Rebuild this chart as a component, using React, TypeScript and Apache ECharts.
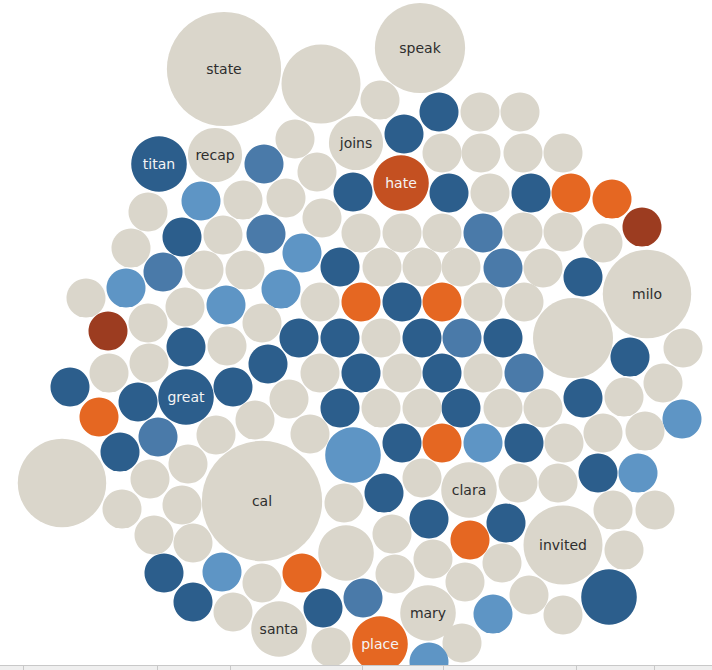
import React, { useEffect, useRef } from 'react';
import * as echarts from 'echarts';

// Packed-bubble layout: word, layout position (x, y), count, sentiment tone
const words = [
  'state', '', 'speak', '', '', '', 'joins', '', '', '', 'hate', '', '', '', '', '', '', '', '', '',
  '', '', '', '', '', '', '', '', '', '', '', '', 'milo', '', '', '', '', '', '', '',
  '', '', '', '', '', '', '', '', '', '', '', '', '', '', '', '', 'clara', '', '', '',
  '', '', 'invited', '', '', '', '', '', '', '', '', '', 'cal', '', '', '', '', '', '', '',
  '', '', '', '', '', '', '', '', '', 'mary', 'santa', '', '', 'place', '', '', '', '', '', '',
  '', '', '', '', '', '', '', 'titan', 'recap', '', '', '', '', '', '', '', '', '', '', '',
  '', '', '', '', '', '', '', '', '', '', '', '', '', '', '', '', '', '', '', '',
  '', '', '', '', '', '', '', '', '', '', '', '', '', '', '', '', '', '', '', '',
  'great', '', '', '', '',
];
const posX = [
  224, 321, 420, 380, 439, 404, 356, 295, 317, 264, 401, 353, 449, 442, 480, 520, 481, 523, 563, 490,
  531, 571, 612, 642, 483, 523, 563, 603, 461, 503, 543, 583, 647, 483, 524, 573, 462, 503, 483, 524,
  630, 683, 461, 503, 543, 583, 624, 663, 682, 483, 524, 564, 603, 645, 598, 638, 469, 518, 558, 506,
  613, 655, 563, 624, 470, 502, 465, 609, 529, 563, 493, 462, 262, 353, 402, 442, 422, 384, 344, 429,
  346, 392, 433, 395, 302, 222, 262, 323, 363, 428, 279, 233, 331, 380, 429, 301, 62, 120, 158, 150,
  188, 122, 182, 154, 193, 164, 193, 159, 215, 201, 148, 243, 182, 223, 286, 266, 322, 361, 402, 442,
  302, 245, 340, 382, 422, 281, 320, 361, 402, 442, 262, 299, 340, 381, 422, 268, 320, 361, 402, 442,
  289, 340, 381, 422, 255, 310, 131, 163, 126, 204, 86, 185, 226, 108, 148, 186, 227, 109, 149, 70,
  186, 138, 233, 99, 216,
];
const posY = [
  69, 84, 48, 100, 112, 134, 143, 139, 172, 164, 183, 192, 193, 153, 112, 112, 153, 153, 153, 193,
  193, 193, 199, 227, 233, 232, 232, 243, 267, 268, 268, 277, 294, 302, 302, 338, 338, 338, 373, 373,
  357, 348, 408, 408, 408, 398, 397, 383, 419, 443, 443, 443, 433, 431, 473, 473, 490, 483, 483, 523,
  510, 510, 545, 550, 540, 563, 582, 597, 595, 615, 614, 643, 501, 455, 443, 443, 478, 493, 503, 519,
  553, 534, 559, 574, 573, 572, 583, 608, 598, 613, 629, 612, 647, 644, 662, 675, 483, 452, 437, 479,
  464, 509, 505, 535, 543, 573, 602, 164, 155, 201, 212, 200, 237, 235, 198, 234, 218, 233, 233, 233,
  253, 270, 267, 267, 267, 289, 302, 302, 302, 302, 323, 338, 338, 338, 338, 364, 373, 373, 373, 373,
  399, 408, 408, 408, 420, 434, 248, 272, 288, 270, 298, 307, 305, 331, 323, 347, 346, 373, 363, 387,
  397, 402, 387, 417, 435,
];
const counts = [
  83, 40, 52, 10, 10, 10, 19, 10, 10, 10, 20, 10, 10, 10, 10, 10, 10, 10, 10, 10,
  10, 10, 10, 10, 10, 10, 10, 10, 10, 10, 10, 10, 50, 10, 10, 41, 10, 10, 10, 10,
  10, 10, 10, 10, 10, 10, 10, 10, 10, 10, 10, 10, 10, 10, 10, 10, 20, 10, 10, 10,
  10, 10, 40, 10, 10, 10, 10, 20, 10, 10, 10, 10, 92, 20, 10, 10, 10, 10, 10, 10,
  20, 10, 10, 10, 10, 10, 10, 10, 10, 20, 20, 10, 10, 20, 10, 10, 50, 10, 10, 10,
  10, 10, 10, 10, 10, 10, 10, 20, 19, 10, 10, 10, 10, 10, 10, 10, 10, 10, 10, 10,
  10, 10, 10, 10, 10, 10, 10, 10, 10, 10, 10, 10, 10, 10, 10, 10, 10, 10, 10, 10,
  10, 10, 10, 10, 10, 10, 10, 10, 10, 10, 10, 10, 10, 10, 10, 10, 10, 10, 10, 10,
  20, 10, 10, 10, 10,
];
// n neutral, d strong positive, m positive, l mild positive, o negative, h strong negative, b very negative
const tones = [
  'n', 'n', 'n', 'n', 'd', 'd', 'n', 'n', 'n', 'm', 'h', 'd', 'd', 'n', 'n', 'n', 'n', 'n', 'n', 'n',
  'd', 'o', 'o', 'b', 'm', 'n', 'n', 'n', 'n', 'm', 'n', 'd', 'n', 'n', 'n', 'n', 'm', 'd', 'n', 'm',
  'd', 'n', 'd', 'n', 'n', 'd', 'n', 'n', 'l', 'l', 'd', 'n', 'n', 'n', 'd', 'l', 'n', 'n', 'n', 'd',
  'n', 'n', 'n', 'n', 'o', 'n', 'n', 'd', 'n', 'n', 'l', 'n', 'n', 'l', 'd', 'o', 'n', 'd', 'n', 'd',
  'n', 'n', 'n', 'n', 'o', 'l', 'n', 'd', 'm', 'n', 'n', 'n', 'n', 'o', 'l', 'd', 'n', 'd', 'm', 'n',
  'n', 'n', 'n', 'n', 'n', 'd', 'd', 'd', 'n', 'l', 'n', 'n', 'd', 'n', 'n', 'm', 'n', 'n', 'n', 'n',
  'l', 'n', 'd', 'n', 'n', 'l', 'n', 'o', 'd', 'o', 'n', 'd', 'd', 'n', 'd', 'd', 'n', 'd', 'n', 'd',
  'n', 'd', 'n', 'n', 'n', 'n', 'n', 'm', 'l', 'n', 'n', 'n', 'l', 'b', 'n', 'd', 'n', 'n', 'n', 'd',
  'd', 'd', 'd', 'o', 'n',
];
const tabEdges = [23, 157, 230, 362, 443, 576, 654];

const toneColor: Record<string, string> = {
  n: '#dad6cb',
  d: '#2c5e8c',
  m: '#4a7aa9',
  l: '#5e95c5',
  o: '#e56722',
  h: '#c45021',
  b: '#9c3c20',
};

export default function App() {
  const ref = useRef<HTMLDivElement>(null);
  useEffect(() => {
    if (!ref.current) return;
    const chart = echarts.init(ref.current, null, { renderer: 'svg' });
    const data = words.map((w, i) => ({
      name: w,
      value: [posX[i], posY[i], counts[i]],
      itemStyle: { color: toneColor[tones[i]], opacity: 1 },
      label: { show: w !== '', color: tones[i] === 'n' ? '#2e2e2e' : '#f4f4f4' },
    }));
    const graphics: any[] = [
      { type: 'rect', z: 100, shape: { x: 0, y: 665, width: 712, height: 6 }, style: { fill: '#efefef' } },
      { type: 'line', z: 101, shape: { x1: 0, y1: 665.5, x2: 712, y2: 665.5 }, style: { stroke: '#c8c8c8', lineWidth: 1 } },
      ...tabEdges.map((x) => ({
        type: 'line', z: 101, shape: { x1: x + 0.5, y1: 665, x2: x + 0.5, y2: 670 }, style: { stroke: '#c8c8c8', lineWidth: 1 },
      })),
    ];
    chart.setOption({
      animation: false,
      grid: { left: 0, right: 0, top: 0, bottom: 0 },
      xAxis: { type: 'value', min: 0, max: 712, show: false },
      yAxis: { type: 'value', min: 0, max: 670, inverse: true, show: false },
      series: [
        {
          type: 'scatter',
          data,
          symbol: 'circle',
          symbolSize: (v: number[]) => 40 * Math.sqrt(v[2] / 10) - 1,
          itemStyle: { opacity: 1 },
          label: {
            formatter: '{b}',
            position: 'inside',
            fontFamily: 'DejaVu Sans',
            fontSize: 14,
          },
          emphasis: { disabled: true },
          silent: true,
        },
      ],
      graphic: graphics,
    });
    return () => chart.dispose();
  }, []);
  return <div ref={ref} style={{ position: 'absolute', left: 0, top: 0, width: 712, height: 670 }} />;
}
